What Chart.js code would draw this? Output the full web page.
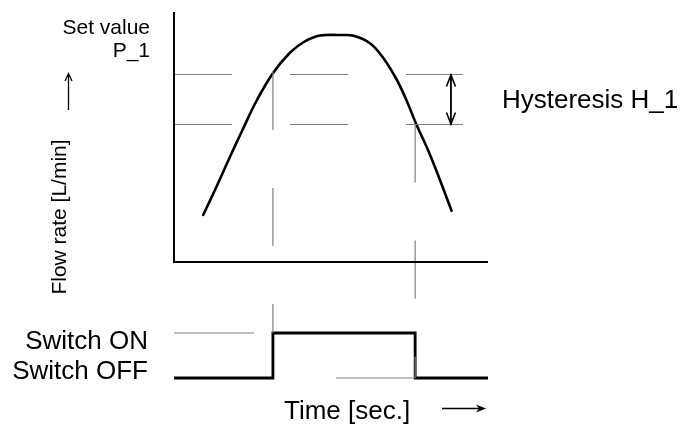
<!DOCTYPE html>
<html>
<head>
<meta charset="utf-8">
<script src="https://cdn.jsdelivr.net/npm/chart.js@4/dist/chart.umd.min.js"></script>
<style>
  html, body { margin: 0; padding: 0; background: #ffffff; }
  #wrap { width: 680px; height: 426px; }
</style>
</head>
<body>
<div id="wrap"><canvas id="c" width="680" height="426"></canvas></div>
<script>
// ---- data ----
const flowTime = [9.3, 13.6, 17.8, 21.8, 26.3, 31.5, 36.9, 41.2, 45.4, 48.5, 52.9, 57.2, 62.4, 66.7, 70.9, 74.0, 77.2, 81.0, 84.7, 88.4];
const flowRate = [18.8, 30.3, 42.0, 52.8, 64.5, 75.5, 83.7, 87.9, 90.3, 90.8, 90.8, 90.5, 87.5, 81.5, 73.0, 64.8, 55.0, 44.5, 32.8, 20.5];
const setValueLevel = 75;      // Set value P_1
const resetLevel = 55;         // P_1 - Hysteresis H_1
const levelLineEnd = 92;
const hysteresisArrowTime = 88.2;
const switchOnTime = 31.5;
const switchOffTime = 76.8;
const switchTime = [0, switchOnTime, switchOffTime, 100];
const switchState = [0, 1, 0, 0];
const onRefLine = [0, 25.5];
const offRefLine = [51.6, switchOffTime];
const guideOnRange = [76, -28.4];
const guideOffRange = [resetLevel, -46.4];
const axisTimeMax = 100;
const axisFlowMax = 100;

const BLACK = '#000000';
const GRAY = '#808080';

const pts = (xs, ys) => xs.map((x, i) => ({ x: x, y: ys[i] }));

const labelPlugin = {
  id: 'labels',
  afterDraw(chart) {
    const ctx = chart.ctx;
    const xs = chart.scales.x, ys = chart.scales.y;
    ctx.save();
    // hysteresis arrow heads
    const ax = xs.getPixelForValue(hysteresisArrowTime);
    const top = ys.getPixelForValue(setValueLevel);
    const bot = ys.getPixelForValue(resetLevel);
    ctx.strokeStyle = BLACK;
    ctx.lineWidth = 1.6;
    ctx.beginPath();
    ctx.moveTo(ax - 4.5, top + 12); ctx.lineTo(ax, top + 0.5); ctx.lineTo(ax + 4.5, top + 12);
    ctx.moveTo(ax - 4.5, bot - 12); ctx.lineTo(ax, bot - 0.5); ctx.lineTo(ax + 4.5, bot - 12);
    ctx.stroke();

    ctx.fillStyle = BLACK;
    ctx.font = '21px "Liberation Sans", Arial, sans-serif';
    ctx.textAlign = 'right';
    ctx.textBaseline = 'middle';
    ctx.fillText('Set value', 150, 28);
    ctx.fillText('P_1', 150, 51);

    // up arrow
    ctx.lineWidth = 1.3;
    ctx.beginPath();
    ctx.moveTo(68.5, 110); ctx.lineTo(68.5, 74);
    ctx.moveTo(65, 81); ctx.lineTo(68.5, 73.5); ctx.lineTo(72, 81);
    ctx.stroke();

    // rotated y label
    ctx.save();
    ctx.translate(60, 217);
    ctx.rotate(-Math.PI / 2);
    ctx.font = '21px "Liberation Sans", Arial, sans-serif';
    ctx.textAlign = 'center';
    ctx.fillText('Flow rate [L/min]', 0, 0);
    ctx.restore();

    ctx.font = '26px "Liberation Sans", Arial, sans-serif';
    ctx.textAlign = 'left';
    ctx.fillText('Hysteresis H_1', 502, 101);

    ctx.textAlign = 'right';
    ctx.fillText('Switch ON', 148, 342);
    ctx.fillText('Switch OFF', 148, 372);

    ctx.textAlign = 'left';
    ctx.fillText('Time [sec.]', 284, 412);

    // right arrow
    ctx.lineWidth = 1.3;
    ctx.beginPath();
    ctx.moveTo(442, 408.5); ctx.lineTo(482, 408.5);
    ctx.stroke();
    ctx.beginPath();
    ctx.moveTo(486, 408.5); ctx.lineTo(476, 404.5); ctx.lineTo(479, 408.5); ctx.lineTo(476, 412.5); ctx.closePath();
    ctx.fill();
    ctx.restore();
  }
};

const baseLine = { pointRadius: 0, fill: false, clip: false, tension: 0 };

new Chart(document.getElementById('c'), {
  type: 'line',
  data: {
    datasets: [
      Object.assign({}, baseLine, { label: 'axes', data: [{x:0,y:axisFlowMax},{x:0,y:0},{x:axisTimeMax,y:0}], borderColor: BLACK, borderWidth: 2, yAxisID: 'y' }),
      Object.assign({}, baseLine, { label: 'set', data: [{x:0,y:setValueLevel},{x:levelLineEnd,y:setValueLevel}], borderColor: GRAY, borderWidth: 1.2, borderDash: [58, 58], yAxisID: 'y' }),
      Object.assign({}, baseLine, { label: 'reset', data: [{x:0,y:resetLevel},{x:levelLineEnd,y:resetLevel}], borderColor: GRAY, borderWidth: 1.2, borderDash: [58, 58], yAxisID: 'y' }),
      Object.assign({}, baseLine, { label: 'guideOn', data: [{x:switchOnTime,y:guideOnRange[0]},{x:switchOnTime,y:guideOnRange[1]}], borderColor: GRAY, borderWidth: 1.2, borderDash: [58, 58], yAxisID: 'y' }),
      Object.assign({}, baseLine, { label: 'guideOff', data: [{x:switchOffTime,y:guideOffRange[0]},{x:switchOffTime,y:guideOffRange[1]}], borderColor: GRAY, borderWidth: 1.2, borderDash: [58, 58], yAxisID: 'y' }),
      Object.assign({}, baseLine, { label: 'flow', data: pts(flowTime, flowRate), borderColor: BLACK, borderWidth: 2.6, tension: 0.4, borderCapStyle: 'round', borderJoinStyle: 'round', yAxisID: 'y' }),
      Object.assign({}, baseLine, { label: 'hyst', data: [{x:hysteresisArrowTime,y:setValueLevel},{x:hysteresisArrowTime,y:resetLevel}], borderColor: BLACK, borderWidth: 1.8, yAxisID: 'y' }),
      Object.assign({}, baseLine, { label: 'onRef', data: onRefLine.map(x => ({x:x, y:1})), borderColor: GRAY, borderWidth: 1.2, yAxisID: 'y2' }),
      Object.assign({}, baseLine, { label: 'offRef', data: offRefLine.map(x => ({x:x, y:0})), borderColor: GRAY, borderWidth: 1.2, yAxisID: 'y2' }),
      Object.assign({}, baseLine, { label: 'switch', data: pts(switchTime, switchState), borderColor: BLACK, borderWidth: 2.8, stepped: 'before', yAxisID: 'y2' })
    ]
  },
  options: {
    responsive: false,
    animation: false,
    events: [],
    devicePixelRatio: 1,
    layout: { padding: { left: 174, right: 192, top: 12, bottom: 48 } },
    plugins: { legend: { display: false }, tooltip: { enabled: false }, title: { display: false } },
    scales: {
      x: { type: 'linear', min: 0, max: axisTimeMax, display: false },
      y: { type: 'linear', min: -46.4, max: axisFlowMax, display: false },
      y2: { type: 'linear', min: 0, max: 8.1333, display: false }
    }
  },
  plugins: [labelPlugin]
});
</script>
</body>
</html>
